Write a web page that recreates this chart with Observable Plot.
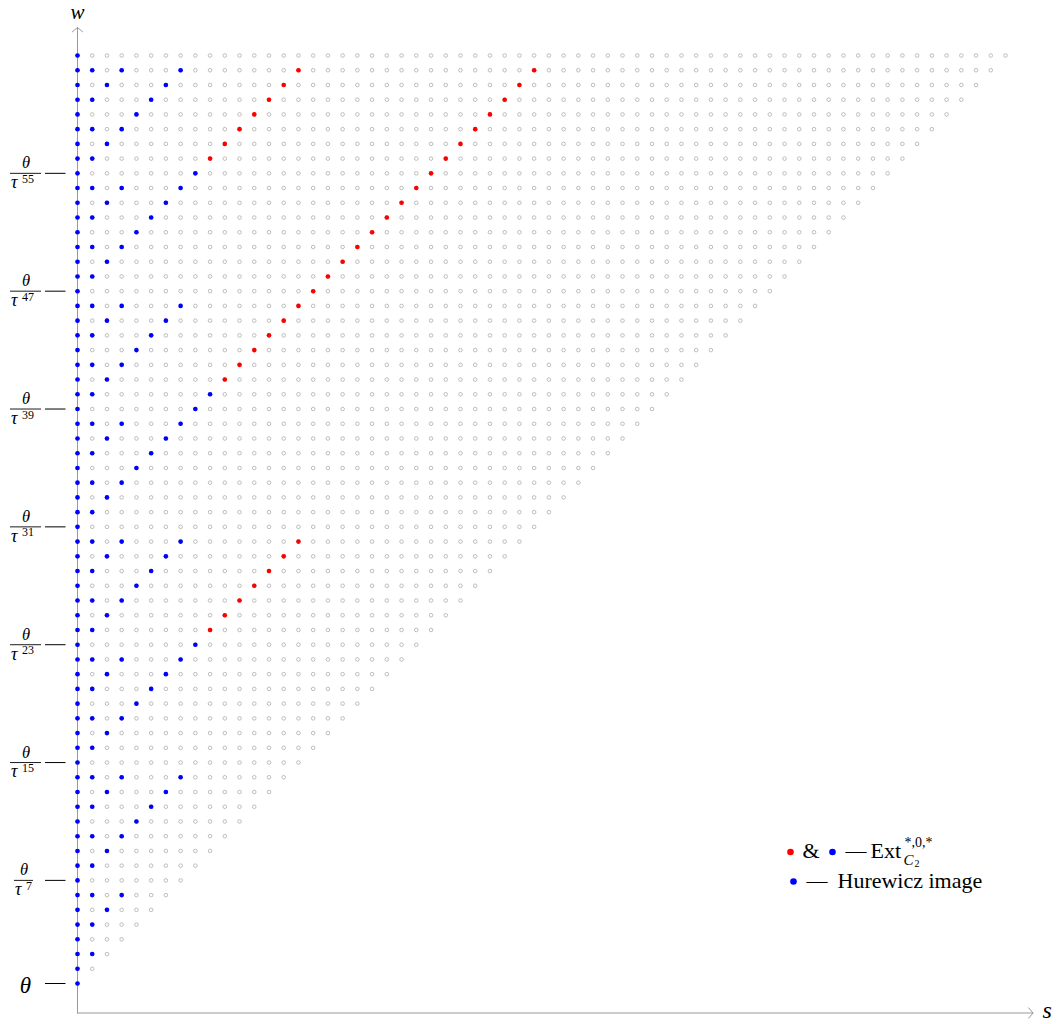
<!DOCTYPE html>
<html>
<head>
<meta charset="utf-8">
<script src="https://cdn.jsdelivr.net/npm/d3@7"></script>
<script src="https://cdn.jsdelivr.net/npm/@observablehq/plot@0.6"></script>
<style>
  html, body { margin: 0; padding: 0; background: #fff; }
  #chart svg { display: block; }
</style>
</head>
<body>
<div id="chart"></div>
<script>
// ---------------- data ----------------
// rows w = 0..63; row w holds grid positions s = 0..w
const wMax = 63;

// blue dots (Hurewicz image): s positions per row w (index = w)
const hurewiczByRow = [
  [0], [0], [0,1], [0], [0,1], [0,2], [0,1,3], [0],
  [0,1], [0,2], [0,1,3], [0,4], [0,1,5], [0,2,6], [0,1,3,7], [0],
  [0,1], [0,2], [0,1,3], [0,4], [0,1,5], [0,2,6], [0,1,3,7], [0,8],
  [0,1], [0,2], [0,1,3], [0,4], [0,1,5], [0,2,6], [0,1,3,7], [0],
  [0,1], [0,2], [0,1,3], [0,4], [0,1,5], [0,2,6], [0,1,3,7], [0,8],
  [0,1,9], [0,2], [0,1,3], [0,4], [0,1,5], [0,2,6], [0,1,3,7], [0],
  [0,1], [0,2], [0,1,3], [0,4], [0,1,5], [0,2,6], [0,1,3,7], [0,8],
  [0,1], [0,2], [0,1,3], [0,4], [0,1,5], [0,2,6], [0,1,3,7], [0]
];

// red dots (rest of Ext): [w, s]
const extOnlyPoints = [
  [24,9],[25,10],[26,11],[27,12],[28,13],[29,14],[30,15],
  [41,10],[42,11],[43,12],[44,13],[45,14],[46,15],[47,16],
  [48,17],[49,18],[50,19],[51,20],[52,21],[53,22],[54,23],[55,24],
  [56,25],[57,26],[58,27],[59,28],[60,29],[61,30],[62,31],
  [56,9],[57,10],[58,11],[59,12],[60,13],[61,14],[62,15]
];

// y tick labels: θ at w=0, θ/τ^w elsewhere
const tickW = [0, 7, 15, 23, 31, 39, 47, 55];
const tickNumerator = "θ";
const tickDenominator = "τ";

const axisLabelX = "s";
const axisLabelY = "w";
const legendAmp = "&";
const legendDash = "—";
const legendExt = "Ext";
const legendExtSup = "*,0,*";
const legendExtSub = "C";
const legendExtSubSub = "2";
const legendHurewicz = "Hurewicz image";

// ---------------- build ----------------
const grid = [];
for (let w = 0; w <= wMax; w++) for (let s = 0; s <= w; s++) grid.push({s, w});
const blue = hurewiczByRow.flatMap((ss, w) => ss.map(s => ({s, w})));
const red = extOnlyPoints.map(([w, s]) => ({s, w}));

const W = 1060, H = 1024;
const domain = [0, wMax];
const xRange = [77, 1005];
const yRange = [983, 55];
const X = d3.scaleLinear(domain, xRange);
const Y = d3.scaleLinear(domain, yRange);

const font = "'Liberation Serif', 'Times New Roman', serif";
const axisColor = "#999";
const wBottom = Y.invert(1012.5);
const sEnd = X.invert(1032.5);
const wEnd = Y.invert(27);

const ticksOne = tickW.filter(w => w > 0 && String(w).length === 1);
const ticksTwo = tickW.filter(w => String(w).length === 2);

function fractionMarks(ws, L, R, expDx) {
  return [
    Plot.ruleY(ws, {y: d => d, x1: X.invert(L), x2: X.invert(R), stroke: "#000", strokeWidth: 0.9}),
    Plot.text(ws, {y: d => d, frameAnchor: "left", dx: (L + R) / 2, dy: -5, text: () => tickNumerator,
      textAnchor: "middle", lineAnchor: "bottom", fontSize: 16.5, fontStyle: "italic", fill: "#000"}),
    Plot.text(ws, {y: d => d, frameAnchor: "left", dx: L + 0.5, dy: 14.8, text: () => tickDenominator,
      textAnchor: "start", lineAnchor: "bottom", fontSize: 18, fontStyle: "italic", fill: "#000"}),
    Plot.text(ws, {y: d => d, frameAnchor: "left", dx: L + expDx, dy: 9.6, text: d => String(d),
      textAnchor: "start", lineAnchor: "bottom", fontSize: 12, fill: "#000"})
  ];
}

function at(px, py, opts) {
  return {frameAnchor: "top-left", dx: px, dy: py, ...opts};
}

const plot = Plot.plot({
  width: W,
  height: H,
  margin: 0,
  style: {fontFamily: font, background: "#fff"},
  x: {domain, range: xRange, axis: null},
  y: {domain, range: yRange, axis: null},
  marks: [
    // axes with open arrowheads
    Plot.arrow([0], {x1: 0, y1: wBottom, x2: sEnd, y2: wBottom, stroke: axisColor, strokeWidth: 1, headLength: 10, headAngle: 100}),
    Plot.arrow([0], {x1: 0, y1: wBottom, x2: 0, y2: wEnd, stroke: axisColor, strokeWidth: 1, headLength: 10, headAngle: 100}),
    // grid of empty circles
    Plot.dot(grid, {x: "s", y: "w", r: 1.8, stroke: "#a8a8a8", strokeWidth: 0.75, fill: "none"}),
    // Ext (red) and Hurewicz image (blue)
    Plot.dot(red, {x: "s", y: "w", r: 2.3, fill: "#ff0000", stroke: "none"}),
    Plot.dot(blue, {x: "s", y: "w", r: 2.3, fill: "#0000ff", stroke: "none"}),
    // y tick marks
    Plot.ruleY(tickW, {y: d => d, x1: X.invert(45), x2: X.invert(65.5), stroke: "#000", strokeWidth: 1}),
    // θ at w = 0
    Plot.text([0], {y: d => d, frameAnchor: "left", dx: 25, dy: 9.5, text: () => tickNumerator,
      textAnchor: "middle", lineAnchor: "bottom", fontSize: 23, fontStyle: "italic", fill: "#000"}),
    ...fractionMarks(ticksOne, 14, 33, 11.5),
    ...fractionMarks(ticksTwo, 10, 41, 11.5),
    // axis labels
    Plot.text([axisLabelY], at(77, 18.7, {text: d => d, textAnchor: "middle", lineAnchor: "bottom", fontSize: 21, fontStyle: "italic", fill: "#000"})),
    Plot.text([axisLabelX], at(1042, 1017.5, {text: d => d, textAnchor: "start", lineAnchor: "bottom", fontSize: 24, fontStyle: "italic", fill: "#000"})),
    // legend row 1
    Plot.dot([0], at(790, 851.5, {r: 3.3, fill: "#ff0000"})),
    Plot.text([legendAmp], at(802, 857, {text: d => d, textAnchor: "start", lineAnchor: "bottom", fontSize: 22, fill: "#000"})),
    Plot.dot([0], at(832, 851.5, {r: 3.3, fill: "#0000ff"})),
    Plot.text([legendDash], at(845, 857, {text: d => d, textAnchor: "start", lineAnchor: "bottom", fontSize: 21, fill: "#000"})),
    Plot.text([legendExt], at(870, 857, {text: d => d, textAnchor: "start", lineAnchor: "bottom", fontSize: 22, fill: "#000"})),
    Plot.text([legendExtSup], at(904, 846, {text: d => d, textAnchor: "start", lineAnchor: "bottom", fontSize: 14, fill: "#000"})),
    Plot.text([legendExtSub], at(903, 864, {text: d => d, textAnchor: "start", lineAnchor: "bottom", fontSize: 15, fontStyle: "italic", fill: "#000"})),
    Plot.text([legendExtSubSub], at(914, 866.5, {text: d => d, textAnchor: "start", lineAnchor: "bottom", fontSize: 10, fill: "#000"})),
    // legend row 2
    Plot.dot([0], at(793, 881, {r: 3.3, fill: "#0000ff"})),
    Plot.text([legendDash], at(806, 887, {text: d => d, textAnchor: "start", lineAnchor: "bottom", fontSize: 21, fill: "#000"})),
    Plot.text([legendHurewicz], at(837, 887, {text: d => d, textAnchor: "start", lineAnchor: "bottom", fontSize: 22, fill: "#000"}))
  ]
});

document.getElementById("chart").appendChild(plot);
</script>
</body>
</html>
